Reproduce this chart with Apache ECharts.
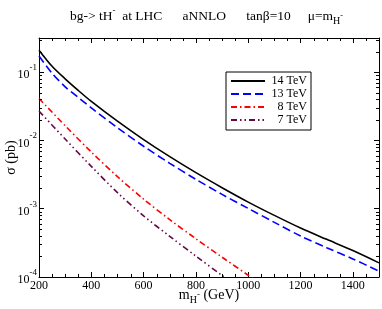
<!DOCTYPE html>
<html>
<head>
<meta charset="utf-8">
<script src="https://cdn.jsdelivr.net/npm/echarts@6/dist/echarts.min.js"></script>
<style>
html,body{margin:0;padding:0;background:#fff;}
#main{width:382px;height:309px;}
</style>
</head>
<body>
<div id="main"></div>
<script>
// ---- data ----
const seriesNames = ['14 TeV', '13 TeV', '8 TeV', '7 TeV'];
const mass14 = [200, 250, 300, 350, 400, 500, 600, 700, 800, 900, 1000, 1100, 1200, 1300, 1400, 1500];
const sigma14 = [0.210, 0.122, 0.0798, 0.054, 0.0373, 0.01914, 0.01028, 0.00578, 0.00337, 0.00203, 0.00125, 0.000798, 0.000521, 0.000356, 0.000244, 0.000161];
const mass13 = [200, 250, 300, 350, 400, 500, 600, 700, 800, 900, 1000, 1100, 1200, 1300, 1400, 1500];
const sigma13 = [0.172, 0.0966, 0.0610, 0.0427, 0.0299, 0.01531, 0.00822, 0.00462, 0.00269, 0.00162, 0.00101, 0.000631, 0.000398, 0.000269, 0.000184, 0.000122];
const mass8 = [200, 300, 400, 500, 600, 700, 800, 900, 1000, 1050];
const sigma8 = [0.0412, 0.01641, 0.00676, 0.00295, 0.00138, 0.000692, 0.000363, 0.000195, 0.000106, 0.0000776];
const mass7 = [200, 300, 400, 500, 600, 700, 800, 900, 950];
const sigma7 = [0.0269, 0.01047, 0.00417, 0.00172, 0.000785, 0.000394, 0.000202, 0.000105, 0.0000759];
const xMinorValues = [250, 300, 350, 450, 500, 550, 650, 700, 750, 850, 900, 950, 1050, 1100, 1150, 1250, 1300, 1350, 1450];
const yMinorMultipliers = [2, 3, 4, 5, 6, 7, 8, 9];
const yDecades = [1e-4, 1e-3, 1e-2, 1e-1];

const xMin = 200, xMax = 1500;
const yMin = 1e-4, yMax = 0.3162;

const yMinorValues = [];
yDecades.forEach(d => yMinorMultipliers.forEach(k => { const v = d * k; if (v <= yMax) yMinorValues.push(v); }));

const pair = (xs, ys) => xs.map((x, i) => [x, ys[i]]);
const serif = 'Liberation Serif';

const chart = echarts.init(document.getElementById('main'), null, {renderer: 'canvas'});

const axisLineStyle = {show: true, lineStyle: {color: '#000', width: 1}};

const option = {
  backgroundColor: '#fff',
  animation: false,
  title: {
    text: '{a|bg-> tH}{sup|-}{a|  at LHC      aNNLO      tanβ=10     μ=m}{sub|H}{sup2|-}',
    left: 65,
    top: 1,
    textStyle: {
      fontFamily: serif, fontWeight: 'normal', color: '#000',
      rich: {
        a: {fontFamily: serif, fontSize: 13.5, lineHeight: 20, verticalAlign: 'middle', color: '#000'},
        sup: {fontFamily: serif, fontSize: 9, lineHeight: 20, verticalAlign: 'top', color: '#000'},
        sub: {fontFamily: serif, fontSize: 10, lineHeight: 20, verticalAlign: 'bottom', color: '#000'},
        sup2: {fontFamily: serif, fontSize: 8, lineHeight: 20, verticalAlign: 'middle', color: '#000'}
      }
    }
  },
  grid: {left: 39, right: 3, top: 38, bottom: 32, containLabel: false, outerBoundsMode: 'none'},
  legend: {
    data: seriesNames,
    orient: 'vertical',
    left: 226, top: 72,
    itemWidth: 34, itemHeight: 10, itemGap: 1,
    padding: [3, 4, 4, 4],
    borderColor: '#000', borderWidth: 1,
    backgroundColor: '#fff',
    itemStyle: {opacity: 0},
    formatter: n => '{r|' + n + '}',
    textStyle: {
      fontFamily: serif, fontSize: 12, color: '#000',
      rich: {r: {fontFamily: serif, fontSize: 12, width: 37, align: 'right', color: '#000'}}
    }
  },
  xAxis: [{
    type: 'value', min: xMin, max: xMax, interval: 200, position: 'bottom',
    axisLine: axisLineStyle,
    axisTick: {show: true, inside: true, length: 5, lineStyle: {color: '#000'}},
    splitLine: {show: false},
    axisLabel: {
      fontFamily: serif, fontSize: 12, color: '#000', margin: 3,
      showMaxLabel: false,
      formatter: v => String(v)
    },
    name: '{a|m}{sub|H}{sup|-}{a| (GeV)}',
    nameLocation: 'middle', nameGap: 8, nameMoveOverlap: false,
    nameTextStyle: {
      fontFamily: serif, color: '#000',
      rich: {
        a: {fontFamily: serif, fontSize: 14, lineHeight: 20, verticalAlign: 'middle', color: '#000'},
        sub: {fontFamily: serif, fontSize: 10, lineHeight: 20, verticalAlign: 'bottom', color: '#000'},
        sup: {fontFamily: serif, fontSize: 9, lineHeight: 20, verticalAlign: 'middle', color: '#000'}
      }
    }
  }, {
    type: 'value', min: xMin, max: xMax, interval: 200, position: 'top',
    axisLine: axisLineStyle,
    axisTick: {show: true, inside: true, length: 5, lineStyle: {color: '#000'}},
    splitLine: {show: false},
    axisLabel: {show: false}
  }],
  yAxis: [{
    type: 'log', logBase: 10, min: yMin, max: yMax, position: 'left',
    axisLine: axisLineStyle,
    axisTick: {show: true, inside: true, length: 5, lineStyle: {color: '#000'}},
    splitLine: {show: false},
    axisLabel: {
      margin: 2, showMaxLabel: false,
      formatter: v => {
        const e = Math.round(Math.log10(v));
        return '{b|10}{s|' + e + '}';
      },
      rich: {
        b: {fontFamily: serif, fontSize: 12, lineHeight: 18, verticalAlign: 'bottom', color: '#000'},
        s: {fontFamily: serif, fontSize: 9, lineHeight: 18, verticalAlign: 'top', color: '#000'}
      }
    },
    name: 'σ (pb)',
    nameLocation: 'middle', nameGap: 21, nameMoveOverlap: false,
    nameTextStyle: {fontFamily: serif, fontSize: 14, color: '#000'}
  }, {
    type: 'log', logBase: 10, min: yMin, max: yMax, position: 'right',
    axisLine: axisLineStyle,
    axisTick: {show: true, inside: true, length: 5, lineStyle: {color: '#000'}},
    splitLine: {show: false},
    axisLabel: {show: false}
  }],
  series: [{
    name: seriesNames[0], type: 'line', data: pair(mass14, sigma14), smooth: 0.3,
    symbol: 'none', clip: true, color: '#000',
    lineStyle: {color: '#000', width: 1.6, type: 'solid'}
  }, {
    name: seriesNames[1], type: 'line', data: pair(mass13, sigma13), smooth: 0.3,
    symbol: 'none', clip: true, color: '#0000ff',
    lineStyle: {color: '#0000ff', width: 1.6, type: [8, 4]}
  }, {
    name: seriesNames[2], type: 'line', data: pair(mass8, sigma8), smooth: 0.3,
    symbol: 'none', clip: true, color: '#ff0000',
    lineStyle: {color: '#ff0000', width: 1.6, type: [6, 3, 1.5, 3]}
  }, {
    name: seriesNames[3], type: 'line', data: pair(mass7, sigma7), smooth: 0.3,
    symbol: 'none', clip: true, color: '#670748',
    lineStyle: {color: '#670748', width: 1.6, type: [6, 3, 1.5, 3, 1.5, 3]}
  }]
};
chart.setOption(option);

// minor ticks, placed through the chart's own scales
const len = 3;
const g = [];
const toPx = (x, y) => chart.convertToPixel({xAxisIndex: 0, yAxisIndex: 0}, [x, y]);
xMinorValues.forEach(v => {
  const b = toPx(v, yMin), t = toPx(v, yMax);
  const x = Math.round(b[0]) + 0.5;
  g.push({type: 'line', shape: {x1: x, y1: b[1], x2: x, y2: b[1] - len}, style: {stroke: '#000', lineWidth: 1}, z: 10});
  g.push({type: 'line', shape: {x1: x, y1: t[1], x2: x, y2: t[1] + len}, style: {stroke: '#000', lineWidth: 1}, z: 10});
});
yMinorValues.forEach(v => {
  const l = toPx(xMin, v), r = toPx(xMax, v);
  const y = Math.round(l[1]) + 0.5;
  g.push({type: 'line', shape: {x1: l[0], y1: y, x2: l[0] + len, y2: y}, style: {stroke: '#000', lineWidth: 1}, z: 10});
  g.push({type: 'line', shape: {x1: r[0], y1: y, x2: r[0] - len, y2: y}, style: {stroke: '#000', lineWidth: 1}, z: 10});
});
chart.setOption({graphic: {elements: g}});
</script>
</body>
</html>
